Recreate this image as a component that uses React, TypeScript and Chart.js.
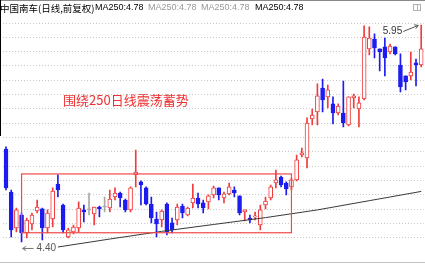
import React, { useEffect, useRef } from 'react';
import { Chart, registerables } from 'chart.js';

Chart.register(...registerables);

// ---- data ----
const OPEN = [
  5.064, 4.757, 4.5, 4.593, 4.464, 4.529, 4.621, 4.636, 4.5, 4.564,
  4.814, 4.664, 4.436, 4.471, 4.5, 4.629, 4.629, 4.6, 4.65, 4.65,
  4.643, 4.721, 4.75, 4.7, 4.629, 4.879, 4.829, 4.786, 4.671, 4.564,
  4.557, 4.671, 4.536, 4.557, 4.657, 4.593, 4.679, 4.714, 4.679, 4.686,
  4.736, 4.786, 4.714, 4.743, 4.771, 4.729, 4.614, 4.571, 4.579, 4.521,
  4.664, 4.714, 4.821, 4.864, 4.821, 4.793, 4.843, 5.021, 5.0, 5.279,
  5.329, 5.5, 5.436, 5.386, 5.321, 5.321, 5.236, 5.429, 5.35, 5.421,
  5.779, 5.85, 5.779, 5.793, 5.757, 5.793, 5.664, 5.586, 5.586, 5.679,
  5.664,
];
const HIGH = [
  5.079, 4.771, 4.643, 4.607, 4.571, 4.607, 4.7, 4.643, 4.629, 4.786,
  4.879, 4.671, 4.5, 4.521, 4.686, 4.664, 4.75, 4.65, 4.657, 4.721,
  4.771, 4.786, 4.757, 4.707, 4.793, 5.057, 4.836, 4.793, 4.721, 4.614,
  4.629, 4.679, 4.571, 4.671, 4.671, 4.65, 4.814, 4.75, 4.7, 4.736,
  4.8, 4.786, 4.757, 4.821, 4.793, 4.729, 4.629, 4.593, 4.614, 4.664,
  4.721, 4.807, 4.914, 4.871, 4.829, 4.857, 5.021, 5.071, 5.286, 5.35,
  5.529, 5.564, 5.521, 5.436, 5.386, 5.55, 5.436, 5.457, 5.436, 5.943,
  5.936, 5.886, 5.779, 5.857, 5.814, 5.793, 5.743, 5.586, 5.757, 5.707,
  5.95,
];
const LOW = [
  4.771, 4.436, 4.471, 4.4, 4.429, 4.486, 4.607, 4.414, 4.464, 4.507,
  4.721, 4.464, 4.429, 4.457, 4.471, 4.543, 4.593, 4.521, 4.579, 4.614,
  4.614, 4.7, 4.65, 4.614, 4.614, 4.793, 4.664, 4.664, 4.536, 4.436,
  4.507, 4.45, 4.464, 4.521, 4.571, 4.586, 4.643, 4.643, 4.607, 4.636,
  4.714, 4.7, 4.679, 4.736, 4.721, 4.593, 4.55, 4.536, 4.557, 4.486,
  4.636, 4.7, 4.786, 4.793, 4.736, 4.771, 4.836, 5.007, 4.929, 5.236,
  5.236, 5.329, 5.357, 5.243, 5.307, 5.221, 5.229, 5.357, 5.221, 5.414,
  5.736, 5.714, 5.621, 5.586, 5.743, 5.736, 5.471, 5.486, 5.557, 5.514,
  5.65,
];
const CLOSE = [
  4.786, 4.486, 4.629, 4.464, 4.557, 4.593, 4.65, 4.5, 4.607, 4.764,
  4.771, 4.486, 4.486, 4.507, 4.643, 4.614, 4.629, 4.65, 4.636, 4.65,
  4.707, 4.75, 4.714, 4.629, 4.786, 4.9, 4.807, 4.671, 4.571, 4.529,
  4.621, 4.471, 4.486, 4.65, 4.607, 4.643, 4.714, 4.671, 4.643, 4.729,
  4.786, 4.736, 4.743, 4.793, 4.75, 4.607, 4.629, 4.557, 4.586, 4.629,
  4.693, 4.793, 4.843, 4.807, 4.779, 4.843, 4.986, 5.036, 5.25, 5.307,
  5.443, 5.414, 5.486, 5.321, 5.371, 5.25, 5.436, 5.443, 5.393, 5.864,
  5.857, 5.786, 5.757, 5.714, 5.8, 5.743, 5.507, 5.543, 5.614, 5.664,
  5.779,
];
// MA250 read at every tenth session (gaps are bridged by the line)
const MA250: (number | null)[] = [
  null, null, null, null, null, null, null, null, null, null,
  4.364, null, null, null, null, null, null, null, null, null,
  4.421, null, null, null, null, null, null, null, null, null,
  4.476, null, null, null, null, null, null, null, null, null,
  4.525, null, null, null, null, null, null, null, null, null,
  4.574, null, null, null, null, null, null, null, null, null,
  4.629, null, null, null, null, null, null, null, null, null,
  4.695, null, null, null, null, null, null, null, null, null,
  4.761,
];
const LABELS = OPEN.map((_, i) => `D${i + 1}`);

const TITLE = '中国南车(日线,前复权)';
const MA_LABELS = ['MA250:4.78', 'MA250:4.78', 'MA250:4.78', 'MA250:4.78'];
const NOTE = '围绕250日线震荡蓄势';
const HIGH_LABEL = '5.95';
const HIGH_VALUE = 5.95;
const HIGH_INDEX = 80;
const LOW_LABEL = '4.40';
const LOW_VALUE = 4.4;
const LOW_INDEX = 3;
const BOX_FROM = 3;
const BOX_TO = 55;
const BOX_TOP = 4.886;
const BOX_BOTTOM = 4.466;

const Y_MIN = 4.257;
const Y_MAX = 6.014;
const GRID_START = 4.4286;
const GRID_STEP = 0.10236;
const GRID_COUNT = 16;

const RED = '#f03c3c';
const BLUE = '#1c1cf0';
const GRAY = '#a8a8a8';

const candleColor = (i: number) =>
  CLOSE[i] > OPEN[i] ? RED : CLOSE[i] < OPEN[i] ? BLUE : GRAY;

function arrow(ctx: CanvasRenderingContext2D, x1: number, y1: number, x2: number, y2: number) {
  ctx.beginPath();
  ctx.moveTo(x1, y1);
  ctx.lineTo(x2, y2);
  ctx.stroke();
  const a = Math.atan2(y2 - y1, x2 - x1);
  const L = 4;
  ctx.beginPath();
  ctx.moveTo(x2 - L * Math.cos(a - 0.55), y2 - L * Math.sin(a - 0.55));
  ctx.lineTo(x2, y2);
  ctx.lineTo(x2 - L * Math.cos(a + 0.55), y2 - L * Math.sin(a + 0.55));
  ctx.stroke();
}

const overlay = {
  id: 'overlay',
  beforeDraw(chart: any) {
    const ctx = chart.ctx as CanvasRenderingContext2D;
    ctx.save();
    ctx.fillStyle = '#ffffff';
    ctx.fillRect(0, 0, chart.width, chart.height);
    ctx.restore();
  },
  afterDraw(chart: any) {
    const ctx = chart.ctx as CanvasRenderingContext2D;
    const xs = chart.scales.x;
    const ys = chart.scales.y;
    const W = chart.width;
    ctx.save();

    // frame lines
    ctx.strokeStyle = '#8a8a8a';
    ctx.lineWidth = 1;
    ctx.beginPath();
    ctx.moveTo(0, 0.5);
    ctx.lineTo(W, 0.5);
    ctx.stroke();
    ctx.strokeStyle = '#c4c4c4';
    ctx.beginPath();
    ctx.moveTo(0, chart.chartArea.bottom + 0.5);
    ctx.lineTo(W, chart.chartArea.bottom + 0.5);
    ctx.stroke();
    ctx.strokeStyle = '#000';
    ctx.beginPath();
    ctx.moveTo(0.5, 0);
    ctx.lineTo(0.5, 136);
    ctx.stroke();

    // title row
    ctx.textBaseline = 'middle';
    ctx.textAlign = 'left';
    ctx.fillStyle = '#000';
    ctx.font = '9.5px "Noto Sans CJK SC", sans-serif';
    ctx.fillText(TITLE, 0, 8);
    const maX = [95, 148, 201, 255];
    const maC = ['#000', '#999', '#999', '#000'];
    ctx.font = '9px "Liberation Sans", Arial, sans-serif';
    MA_LABELS.forEach((t, i) => {
      ctx.fillStyle = maC[i];
      ctx.fillText(t, maX[i], 8);
    });
    // small icon top right
    ctx.strokeStyle = '#b0b0b0';
    ctx.strokeRect(413.5, 4.5, 7, 6);
    ctx.beginPath();
    ctx.moveTo(417.5, 4.5);
    ctx.lineTo(417.5, 10.5);
    ctx.stroke();

    // box annotation
    const bx1 = xs.getPixelForValue(BOX_FROM);
    const bx2 = xs.getPixelForValue(BOX_TO);
    const by1 = ys.getPixelForValue(BOX_TOP);
    const by2 = ys.getPixelForValue(BOX_BOTTOM);
    ctx.strokeStyle = '#f04a4a';
    ctx.lineWidth = 1.2;
    ctx.strokeRect(bx1, by1, bx2 - bx1, by2 - by1);

    // note
    ctx.fillStyle = '#ee3030';
    ctx.font = '13px "Noto Sans CJK SC", sans-serif';
    ctx.textBaseline = 'middle';
    ctx.fillText(NOTE, 63, 100);

    // high label
    ctx.lineWidth = 1;
    ctx.strokeStyle = '#555';
    ctx.fillStyle = '#333';
    ctx.font = '10px "Liberation Sans", Arial, sans-serif';
    const hx = xs.getPixelForValue(HIGH_INDEX);
    const hy = ys.getPixelForValue(HIGH_VALUE);
    arrow(ctx, hx - 18, hy + 6.5, hx - 3, hy + 0.5);
    ctx.textAlign = 'right';
    ctx.fillText(HIGH_LABEL, hx - 19, hy + 6.5);

    // low label
    const lx = xs.getPixelForValue(LOW_INDEX);
    const ly = ys.getPixelForValue(LOW_VALUE);
    ctx.strokeStyle = '#777';
    arrow(ctx, lx + 12, ly + 6.5, lx + 1, ly + 6.5);
    ctx.textAlign = 'left';
    ctx.fillStyle = '#555';
    ctx.fillText(LOW_LABEL, lx + 15, ly + 6.5);

    ctx.restore();
  },
};

export default function App() {
  const ref = useRef<HTMLCanvasElement | null>(null);
  useEffect(() => {
    if (!ref.current) return;
    const colors = OPEN.map((_, i) => candleColor(i));
    const fills = OPEN.map((_, i) =>
      CLOSE[i] > OPEN[i] ? '#ffffff' : candleColor(i)
    );
    const chart = new Chart(ref.current, {
      type: 'bar',
      data: {
        labels: LABELS,
        datasets: [
          {
            type: 'line',
            data: MA250 as any,
            borderColor: '#3a3a3a',
            borderWidth: 1,
            pointRadius: 0,
            spanGaps: true,
            order: 1,
          } as any,
          {
            type: 'bar',
            data: OPEN.map((o, i) => [o, CLOSE[i]]) as any,
            backgroundColor: fills,
            borderColor: colors,
            borderWidth: 1,
            borderSkipped: false,
            barThickness: 4,
            minBarLength: 1,
            grouped: false,
            order: 2,
          } as any,
          {
            type: 'bar',
            data: LOW.map((l, i) => [l, HIGH[i]]) as any,
            backgroundColor: colors,
            borderWidth: 0,
            barThickness: 1,
            grouped: false,
            order: 3,
          } as any,
        ],
      },
      options: {
        responsive: false,
        animation: false,
        devicePixelRatio: 1,
        layout: { padding: { left: 3.4, right: 1.2, top: 16, bottom: 3 } },
        plugins: { legend: { display: false }, tooltip: { enabled: false } },
        scales: {
          x: {
            type: 'category',
            offset: true,
            display: false,
            grid: { display: false },
          },
          y: {
            type: 'linear',
            min: Y_MIN,
            max: Y_MAX,
            display: true,
            ticks: { display: false },
            grid: { color: '#c8c8c8', lineWidth: 1, drawTicks: false },
            border: { display: false, dash: [1, 2] },
            afterBuildTicks: (scale: any) => {
              const t: any[] = [];
              for (let k = 0; k < GRID_COUNT; k++) t.push({ value: GRID_START + k * GRID_STEP });
              scale.ticks = t;
            },
            afterFit: (scale: any) => {
              scale.width = 0;
            },
          } as any,
        },
      } as any,
      plugins: [overlay],
    });
    return () => chart.destroy();
  }, []);
  return (
    <div style={{ position: 'fixed', left: 0, top: 0, width: 425, height: 265, background: '#fff' }}>
      <canvas ref={ref} width={425} height={265} style={{ display: 'block' }} />
    </div>
  );
}
